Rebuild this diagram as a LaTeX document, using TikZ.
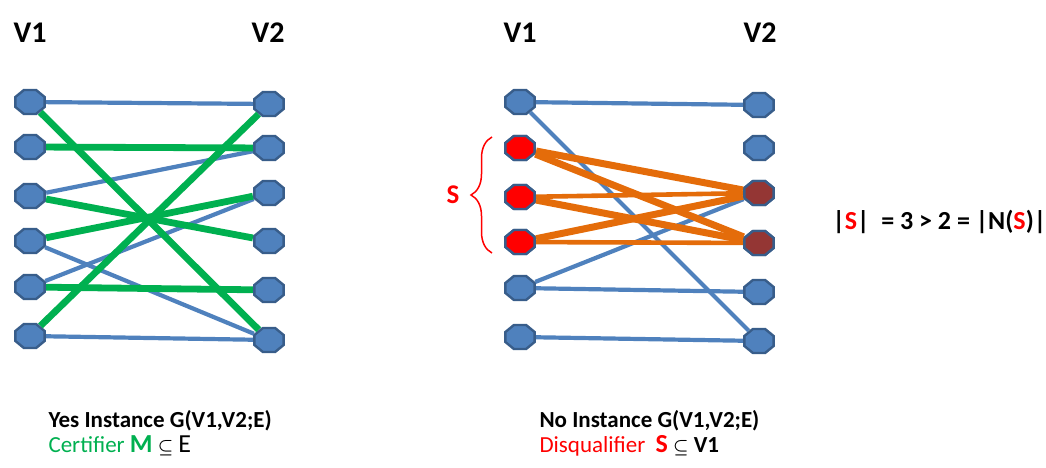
\documentclass[tikz,border=0pt]{standalone}
\usepackage{amsmath}
\usepackage{amssymb}
\usepackage{fontspec}
\setmainfont{Carlito}
\usetikzlibrary{shapes.geometric,decorations.pathreplacing}
\definecolor{vblue}{HTML}{4F81BD}
\definecolor{vline}{HTML}{385D8A}
\definecolor{mgreen}{HTML}{00B050}
\definecolor{sorange}{HTML}{E46C0A}
\definecolor{nbrown}{HTML}{943634}
\newcommand{\subs}{{\fontsize{17}{17}\selectfont$\boldsymbol{\subseteq}$}}

\begin{document}
\begin{tikzpicture}[x=1pt,y=-1pt,
  vert/.style={regular polygon,regular polygon sides=8,minimum size=26pt,inner sep=0pt,
    draw=vline,fill=vblue,line width=2.4pt,xscale=1.22},
  edge/.style={vblue,line width=4.2pt},
  match/.style={mgreen,line width=6.8pt},
  hall/.style={sorange,line width=7pt},
  hallthin/.style={sorange,line width=4.6pt},
  head/.style={font=\fontsize{30}{32}\selectfont\bfseries},
  caption/.style={anchor=west,font=\fontsize{23}{25}\selectfont},
  boldcaption/.style={anchor=west,font=\fontsize{23}{25}\selectfont\bfseries}]
  \useasboundingbox (0,0) rectangle (1046,468);

  % yes instance
  \node [head] (ht1) at (30,33) {V1};
  \node [head] (ht2) at (268,33) {V2};
  \foreach \i/\y in {1/102,2/147,3/196,4/241,5/287,6/336}
    \node [vert] (a\i) at (30,\y) {};
  \foreach \i/\y in {1/104,2/148,3/193,4/241,5/290,6/340}
    \node [vert] (b\i) at (269,\y) {};
  \draw [edge] (a1) -- (b1);
  \draw [edge] (a3) -- (b2);
  \draw [edge] (a4) -- (b6);
  \draw [edge] (a5) -- (b3);
  \draw [edge] (a6) -- (b6);
  \draw [match] (a1) -- (b6);
  \draw [match] (a2) -- (b2);
  \draw [match] (a3) -- (b4);
  \draw [match] (a4) -- (b3);
  \draw [match] (a5) -- (b5);
  \draw [match] (a6) -- (b1);
  \node [boldcaption] (yes) at (45,421) {Yes Instance G(V1,V2;E)};
  \node [caption,text=mgreen] (cert) at (45,446)
    {Certifier {\fontsize{26}{26}\selectfont\bfseries M} \textcolor{black}{\subs\ {\fontsize{26}{26}\selectfont E}}};

  % no instance
  \node [head] (nt1) at (520,33) {V1};
  \node [head] (nt2) at (760,33) {V2};
  \foreach \i/\y in {1/102,2/148,3/197,4/242,5/288,6/337}
    \node [vert] (c\i) at (520,\y) {};
  \foreach \i/\y in {1/105,2/148,3/193,4/243,5/292,6/341}
    \node [vert] (d\i) at (759,\y) {};
  \foreach \i in {2,3,4}
    \node [vert,fill=red] at (c\i) {};
  \foreach \i in {3,4}
    \node [vert,fill=nbrown] at (d\i) {};
  \draw [edge] (c1) -- (d1);
  \draw [edge] (c1) -- (d6);
  \draw [edge] (c5) -- (d3);
  \draw [edge] (c5) -- (d5);
  \draw [edge] (c6) -- (d6);
  \draw [hall] (c2) -- (d3);
  \draw [hall] (c2) -- (d4);
  \draw [hallthin] (c3) -- (d3);
  \draw [hall] (c3) -- (d4);
  \draw [hall] (c4) -- (d3);
  \draw [hallthin] (c4) -- (d4);
  \draw [red,line width=1.5pt,decorate,decoration={brace,amplitude=21pt,aspect=0.5}]
    (492,253) -- (492,137) coordinate [midway] (bmid);
  \node [text=red,font=\fontsize{27}{29}\selectfont\bfseries] (slab) at (453,195) {S};
  \node [boldcaption] (no) at (536,421) {No Instance G(V1,V2;E)};
  \node [caption,text=red] (disq) at (536,446)
    {Disqualifier\ \ {\fontsize{26}{26}\selectfont\bfseries S} \textcolor{black}{\subs\ \textbf{V1}}};
  \node [anchor=west,font=\fontsize{26}{28}\selectfont\bfseries] (hall) at (829,222)
    {|\textcolor{red}{S}|\ \ = 3 > 2 =\ |N(\textcolor{red}{S})|};
\end{tikzpicture}
\end{document}
